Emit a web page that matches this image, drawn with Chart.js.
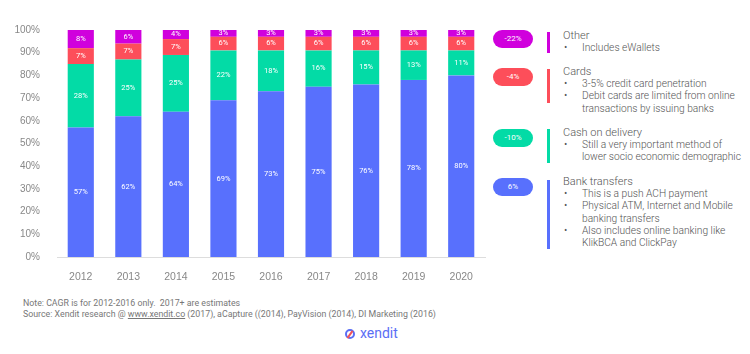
<!DOCTYPE html>
<html>
<head>
<meta charset="utf-8">
<script src="https://cdn.jsdelivr.net/npm/chart.js@4/dist/chart.umd.min.js"></script>
<style>
  body { margin: 0; background: #fff; font-family: Roboto, "Open Sans", sans-serif; }
  #wrap { position: relative; width: 750px; height: 354px; overflow: hidden; }
  #chartBox { position: absolute; left: 0; top: 0; width: 490px; height: 280px; }
  .pill { position: absolute; left: 493px; width: 40px; height: 18px; border-radius: 9px;
          color: #fff; font-size: 8px; text-align: center; line-height: 18px; }
  .vbar { position: absolute; left: 547px; width: 3px; }
  .item { position: absolute; left: 563px; color: #555; font-size: 10.2px; line-height: 12.2px; font-weight: 300; white-space: nowrap; }
  .item .t { font-size: 11px; }
  .item ul { margin: 0; padding: 0; list-style: none; }
  .item li { position: relative; padding-left: 19px; }
  .item li:before { content: "\2022"; position: absolute; left: 1px; }
  .foot { position: absolute; left: 23px; color: #777; font-size: 8.8px; white-space: nowrap; }
  .foot u { color: #777; }
  #logo { position: absolute; left: 345px; top: 325px; font-size: 14px; color: #5a6ef5; }
  #logo .ic { display: inline-block; width: 10px; height: 10px; border-radius: 50%; border: 2px solid #5a6ef5;
              box-sizing: border-box; position: relative; top: 1px; margin-right: 5px; }
  #logo .ic:after { content: ""; position: absolute; left: 2px; top: -1px; width: 2px; height: 9px; background: #f2545b; transform: rotate(35deg); }
</style>
</head>
<body>
<div id="wrap">
  <div id="chartBox"><canvas id="mix"></canvas></div>
  <div id="side"></div>
  <div class="foot" style="top:298px">Note: CAGR is for 2012-2016 only.&nbsp; 2017+ are estimates</div>
  <div class="foot" style="top:309px">Source: Xendit research @ <u>www.xendit.co</u> (2017), aCapture ((2014), PayVision (2014), DI Marketing (2016)</div>
  <div id="logo"><span class="ic"></span>xendit</div>
</div>
<script>
const years = ['2012', '2013', '2014', '2015', '2016', '2017', '2018', '2019', '2020'];
const bankTransfers = [57, 62, 64, 69, 73, 75, 76, 78, 80];
const cashOnDelivery = [28, 25, 25, 22, 18, 16, 15, 13, 11];
const cards = [7, 7, 7, 6, 6, 6, 6, 6, 6];
const other = [8, 6, 4, 3, 3, 3, 3, 3, 3];
const yTicks = [0, 10, 20, 30, 40, 50, 60, 70, 80, 90, 100];

const seriesNames = ['Bank transfers', 'Cash on delivery', 'Cards', 'Other'];
const seriesColors = ['#5870fd', '#03dba6', '#fd4e5a', '#d000dd'];
const cagr = ['6%', '-10%', '-4%', '-22%'];
const notes = [
  ['This is a push ACH payment', 'Physical ATM, Internet and Mobile<br>banking transfers', 'Also includes online banking like<br>KlikBCA and ClickPay'],
  ['Still a very important method of<br>lower socio economic demographic'],
  ['3-5% credit card penetration', 'Debit cards are limited from online<br>transactions by issuing banks'],
  ['Includes eWallets']
];

// side panel: pill top, bar top, bar height, text top
const sideLayout = [
  [178, 180, 69, 176],
  [129, 129, 34, 127],
  [68, 69, 34, 66],
  [30, 32, 21, 30]
];

const side = document.getElementById('side');
sideLayout.forEach((p, i) => {
  side.innerHTML += `
    <div class="pill" style="top:${p[0]}px;background:${seriesColors[i]}">${cagr[i]}</div>
    <div class="vbar" style="top:${p[1]}px;height:${p[2]}px;background:${seriesColors[i]}"></div>
    <div class="item" style="top:${p[3]}px"><div class="t">${seriesNames[i]}</div>
      <ul>${notes[i].map(n => `<li>${n}</li>`).join('')}</ul></div>`;
});

const segLabels = {
  id: 'segLabels',
  afterDatasetsDraw(chart) {
    const ctx = chart.ctx;
    ctx.save();
    ctx.fillStyle = '#fff';
    ctx.font = '7.5px Roboto, sans-serif';
    ctx.textAlign = 'center';
    ctx.textBaseline = 'middle';
    chart.data.datasets.forEach((ds, di) => {
      chart.getDatasetMeta(di).data.forEach((bar, i) => {
        ctx.fillText(ds.data[i] + '%', bar.x, (bar.y + bar.base) / 2);
      });
    });
    ctx.restore();
  }
};

const series = [bankTransfers, cashOnDelivery, cards, other];

new Chart(document.getElementById('mix'), {
  type: 'bar',
  data: {
    labels: years,
    datasets: series.map((d, i) => ({
      label: seriesNames[i],
      data: d,
      backgroundColor: seriesColors[i],
      barPercentage: 0.55,
      categoryPercentage: 1
    }))
  },
  options: {
    responsive: true,
    maintainAspectRatio: false,
    animation: false,
    layout: { padding: { top: 30, right: 5 } },
    plugins: { legend: { display: false }, tooltip: { enabled: false } },
    scales: {
      x: {
        stacked: true,
        grid: { display: false },
        border: { color: '#ddd' },
        ticks: { color: '#888', font: { size: 10.5 }, padding: 6 },
        afterFit: s => { s.height = 23; }
      },
      y: {
        stacked: true,
        min: 0,
        max: 100,
        afterBuildTicks: s => { s.ticks = yTicks.map(v => ({ value: v })); },
        grid: { display: false },
        border: { display: false },
        ticks: { color: '#888', font: { size: 10 }, padding: 9, callback: v => v + '%' },
        afterFit: s => { s.width = 57; }
      }
    }
  },
  plugins: [segLabels]
});
</script>
</body>
</html>
